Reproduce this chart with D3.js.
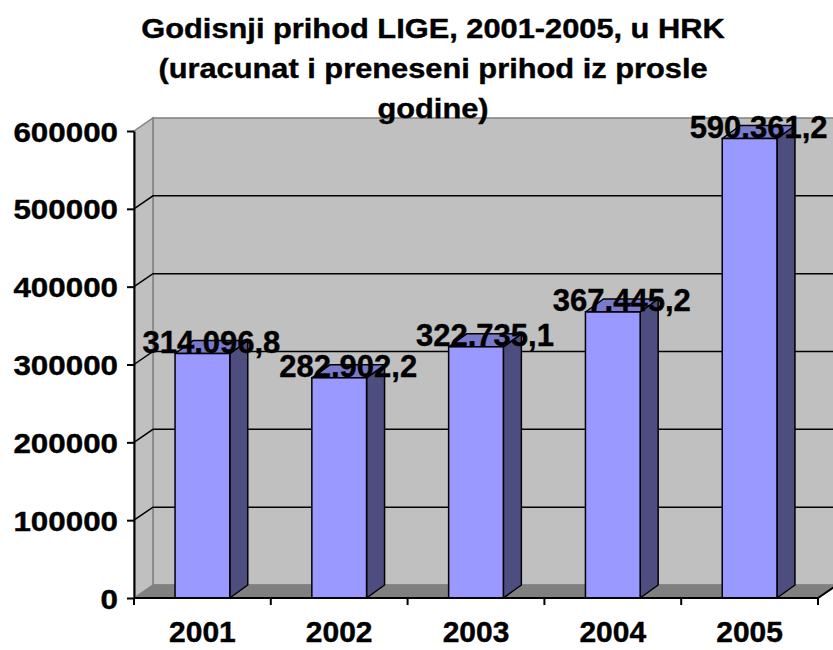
<!DOCTYPE html>
<html lang="hr">
<head>
  <meta charset="UTF-8" />
  <title>Godisnji prihod LIGE</title>
  <script src="https://d3js.org/d3.v7.min.js"></script>
  <style>
    body { margin: 0; padding: 0; background: #fff; }
    svg { display: block; font-family: "Liberation Sans", Arial, sans-serif; font-weight: bold; }
    svg text { stroke: #000; stroke-width: 0.4px; }
  </style>
</head>
<body>
  <svg width="833" height="650"></svg>
  <script>
    const years = ["2001", "2002", "2003", "2004", "2005"];
    const revenue = [314096.8, 282902.2, 322735.1, 367445.2, 590361.2];
    const titleLines = ["Godisnji prihod LIGE, 2001-2005, u HRK", "(uracunat i preneseni prihod iz prosle", "godine)"];

    const svg = d3.select("svg");
    const g = svg.append("g");

    const plotLeft = 134, plotRight = 818, plotBottom = 598, plotTop = 131;
    const dx = 19, dy = -13;       // depth of the 3D walls
    const bdx = 18, bdy = -13;     // depth of the bars

    const x = d3.scaleBand().domain(years).range([plotLeft, plotRight]);
    const y = d3.scaleLinear().domain([0, 600000]).range([plotBottom, plotTop]);
    const hr = d3.formatLocale({ decimal: ",", thousands: ".", grouping: [3] }).format(",.1f");

    const pts = p => p.map(d => d.join(",")).join(" ");

    // back wall
    g.append("polygon")
      .attr("points", pts([[plotLeft + dx, plotTop + dy], [plotRight + dx, plotTop + dy], [plotRight + dx, plotBottom + dy], [plotLeft + dx, plotBottom + dy]]))
      .attr("fill", "#c0c0c0").attr("stroke", "#808080").attr("stroke-width", 1.5);
    // side wall
    g.append("polygon")
      .attr("points", pts([[plotLeft, plotTop], [plotLeft + dx, plotTop + dy], [plotLeft + dx, plotBottom + dy], [plotLeft, plotBottom]]))
      .attr("fill", "#c0c0c0").attr("stroke", "#808080").attr("stroke-width", 1.5);

    // gridlines
    const grid = y.ticks(6).filter(v => v > 0 && v < 600000);
    g.selectAll(".grid").data(grid).enter().append("polyline")
      .attr("class", "grid")
      .attr("points", v => pts([[plotLeft, y(v)], [plotLeft + dx, y(v) + dy], [plotRight + dx, y(v) + dy]]))
      .attr("fill", "none").attr("stroke", "#000").attr("stroke-width", 1.5);

    // floor
    g.append("polygon")
      .attr("points", pts([[plotLeft, plotBottom], [plotLeft + dx, plotBottom + dy], [plotRight + dx, plotBottom + dy], [plotRight, plotBottom]]))
      .attr("fill", "#808080").attr("stroke", "#808080").attr("stroke-width", 1);

    // bars
    const data = years.map((yr, i) => ({ yr, v: revenue[i] }));
    const bw = x.bandwidth() * 0.4;
    const bars = g.selectAll(".bar").data(data).enter().append("g").attr("class", "bar");
    const bx = d => x(d.yr) + x.bandwidth() / 2 - bw / 2;

    bars.append("polygon")
      .attr("points", d => pts([[bx(d) + bw, y(d.v)], [bx(d) + bw + bdx, y(d.v) + bdy], [bx(d) + bw + bdx, plotBottom + bdy], [bx(d) + bw, plotBottom]]))
      .attr("fill", "#4d4d80").attr("stroke", "#000").attr("stroke-width", 1.5).attr("stroke-linejoin", "round");
    bars.append("polygon")
      .attr("points", d => pts([[bx(d), y(d.v)], [bx(d) + bdx, y(d.v) + bdy], [bx(d) + bw + bdx, y(d.v) + bdy], [bx(d) + bw, y(d.v)]]))
      .attr("fill", "#7a7acc").attr("stroke", "#000").attr("stroke-width", 1.5).attr("stroke-linejoin", "round");
    bars.append("rect")
      .attr("x", bx)
      .attr("y", d => y(d.v))
      .attr("width", bw)
      .attr("height", d => plotBottom - y(d.v))
      .attr("fill", "#9999ff").attr("stroke", "#000").attr("stroke-width", 1.5);

    // y axis
    const yAxis = g.append("g")
      .attr("transform", `translate(${plotLeft},0)`)
      .call(d3.axisLeft(y).ticks(6).tickSize(7).tickSizeOuter(0).tickFormat(d3.format("d")));
    yAxis.select(".domain").attr("stroke-width", 2);
    yAxis.selectAll(".tick line").attr("stroke-width", 2);
    yAxis.selectAll(".tick text")
      .attr("font-size", 28).attr("fill", "#000")
      .attr("x", -16 / 1.12).attr("dy", "0.36em")
      .attr("transform", "scale(1.12,1)");
    yAxis.attr("font-family", null);

    // x axis
    g.append("polyline")
      .attr("points", pts([[plotLeft, plotBottom], [plotRight, plotBottom], [plotRight + dx, plotBottom + dy]]))
      .attr("fill", "none").attr("stroke", "#000").attr("stroke-width", 2);
    const bounds = years.map(yr => x(yr)).concat([plotRight]);
    g.selectAll(".xtick").data(bounds).enter().append("line")
      .attr("x1", d => d).attr("x2", d => d)
      .attr("y1", plotBottom).attr("y2", plotBottom + 7)
      .attr("stroke", "#000").attr("stroke-width", 2);
    g.selectAll(".xlabel").data(years).enter().append("text")
      .attr("x", d => x(d) + x.bandwidth() / 2)
      .attr("y", 642)
      .attr("text-anchor", "middle")
      .attr("font-size", 30)
      .text(d => d);

    // data labels
    g.selectAll(".dlabel").data(data).enter().append("text")
      .attr("x", d => bx(d) + (bw + bdx) / 2)
      .attr("y", d => y(d.v) - 1)
      .attr("text-anchor", "middle")
      .attr("font-size", 31)
      .text(d => hr(d.v));

    // title
    titleLines.forEach((t, i) => {
      svg.append("text")
        .attr("transform", `translate(433,${38 + i * 40}) scale(1.1,1)`)
        .attr("text-anchor", "middle")
        .attr("font-size", 28)
        .text(t);
    });
  </script>
</body>
</html>
